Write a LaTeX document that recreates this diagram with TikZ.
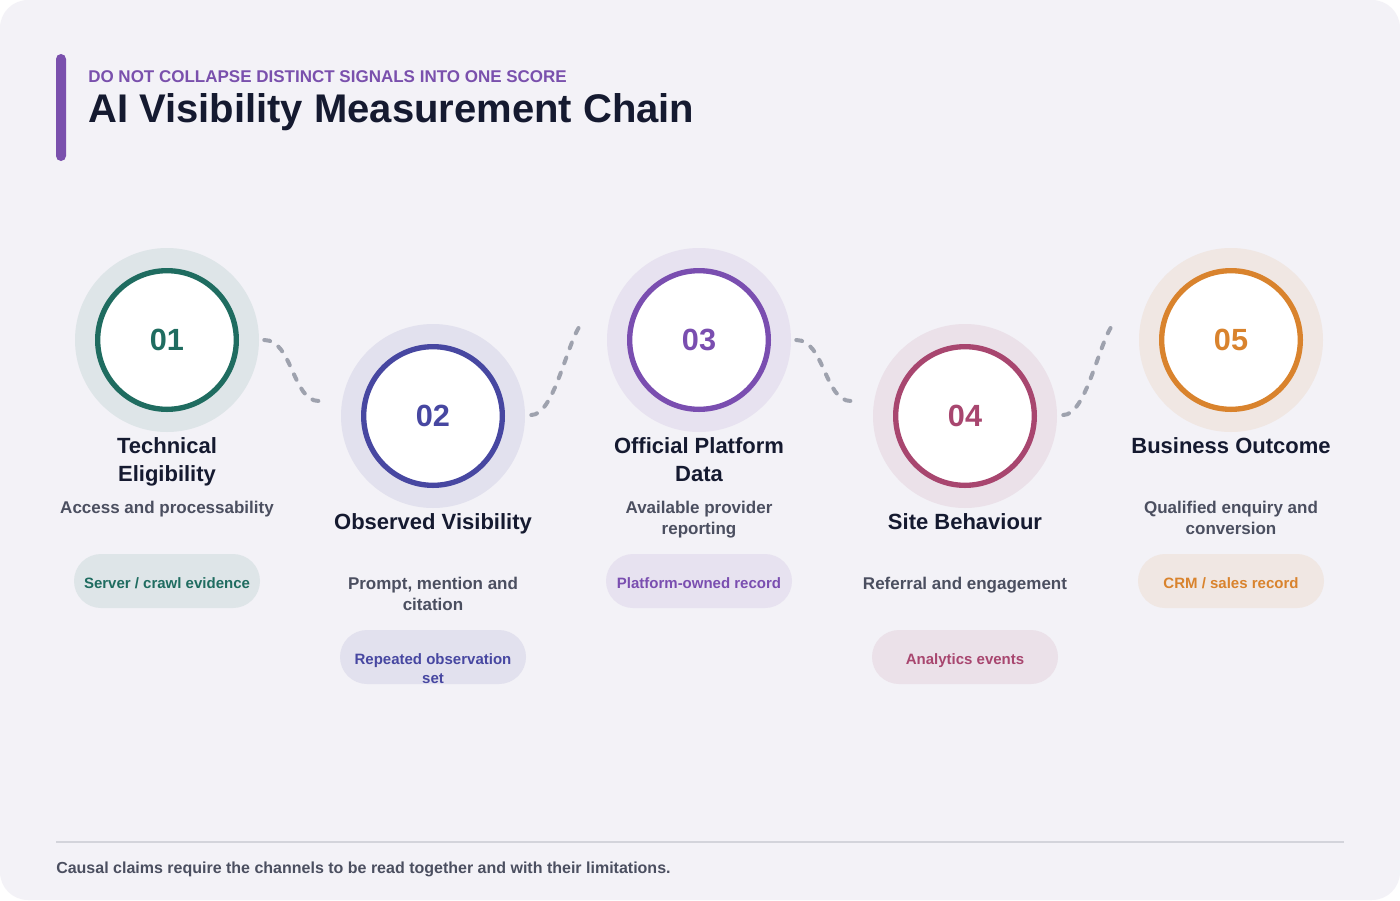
\documentclass[tikz,border=0pt]{standalone}
\usepackage{fontspec}
\setmainfont{Liberation Sans}
\usetikzlibrary{calc}

\definecolor{bgcol}{HTML}{F3F2F7}
\definecolor{inkcol}{HTML}{151A30}
\definecolor{subcol}{HTML}{4B4F60}
\definecolor{linkcol}{HTML}{9EA2AE}
\definecolor{rulecol}{HTML}{D3D4DB}
\definecolor{barcol}{HTML}{7A50AD}
\definecolor{tealcol}{HTML}{1F6C60}
\definecolor{indigocol}{HTML}{4747A1}
\definecolor{purplecol}{HTML}{7A4EB0}
\definecolor{rosecol}{HTML}{A8466F}
\definecolor{orangecol}{HTML}{D9832D}

\tikzset{
  halo/.style={circle, inner sep=0pt, minimum size=138pt, fill=#1!10!bgcol},
  ring/.style={circle, inner sep=0pt, minimum size=104pt, draw=#1, line width=4pt,
    fill=white, text=#1, font=\bfseries\fontsize{23}{26}\selectfont},
  stagetitle/.style={anchor=north, inner sep=0pt, align=center, text=inkcol,
    font=\bfseries\fontsize{16.5}{21}\selectfont},
  stagedesc/.style={anchor=north, inner sep=0pt, align=center, text=subcol,
    font=\bfseries\fontsize{12.75}{15.75}\selectfont},
  pilltext/.style={inner sep=0pt, align=center, text=#1,
    font=\bfseries\fontsize{11.25}{14.25}\selectfont},
  pill/.style={pilltext=#1, rounded corners=20.25pt, minimum width=139.5pt,
    minimum height=40.5pt, text height=11pt, text depth=0pt, fill=#1!10!bgcol},
  link/.style={draw=linkcol, line width=3pt, line cap=round, dash pattern=on 4.5pt off 7.5pt},
}

\begin{document}
\begin{tikzpicture}[x=0.75pt,y=-0.75pt]
  \useasboundingbox (0,0) rectangle (1400,900);
  \fill[white] (0,0) rectangle (1400,900);
  \fill[bgcol, rounded corners=21pt] (0,0) rectangle (1400,900);

  % header
  \fill[barcol, rounded corners=3.75pt] (56,54) rectangle (66,161);
  \node[anchor=base west, inner sep=0pt, text=barcol, font=\bfseries\fontsize{12.75}{15}\selectfont]
    (kicker) at (88,82) {DO NOT COLLAPSE DISTINCT SIGNALS INTO ONE SCORE};
  \node[anchor=base west, inner sep=0pt, text=inkcol, font=\bfseries\fontsize{30}{34}\selectfont]
    (title) at (88,122) {AI Visibility Measurement Chain};

  % stages
  \node[halo=tealcol] (h1) at (167,340) {};
  \node[ring=tealcol] (n1) at (h1) {01};
  \node[halo=indigocol] (h2) at (433,416) {};
  \node[ring=indigocol] (n2) at (h2) {02};
  \node[halo=purplecol] (h3) at (699,340) {};
  \node[ring=purplecol] (n3) at (h3) {03};
  \node[halo=rosecol] (h4) at (965,416) {};
  \node[ring=rosecol] (n4) at (h4) {04};
  \node[halo=orangecol] (h5) at (1231,340) {};
  \node[ring=orangecol] (n5) at (h5) {05};

  \node[stagetitle] (t1) at (167,437) {Technical\\Eligibility};
  \node[stagetitle] (t2) at (433,513) {Observed Visibility};
  \node[stagetitle] (t3) at (699,437) {Official Platform\\Data};
  \node[stagetitle] (t4) at (965,513) {Site Behaviour};
  \node[stagetitle] (t5) at (1231,437) {Business Outcome};

  \node[stagedesc] (d1) at (167,501) {Access and processability};
  \node[stagedesc] (d2) at (433,577) {Prompt, mention and\\citation};
  \node[stagedesc] (d3) at (699,501) {Available provider\\reporting};
  \node[stagedesc] (d4) at (965,577) {Referral and engagement};
  \node[stagedesc] (d5) at (1231,501) {Qualified enquiry and\\conversion};

  \node[pill=tealcol] (p1) at (167,581) {Server / crawl evidence};
  \node[pill=indigocol] (p2) at (433,657) {};
  \node[pilltext=indigocol] (p2t) at (433,669) {Repeated observation\\set};
  \node[pill=purplecol] (p3) at (699,581) {Platform-owned record};
  \node[pill=rosecol] (p4) at (965,657) {Analytics events};
  \node[pill=orangecol] (p5) at (1231,581) {CRM / sales record};

  % dashed links
  \draw[link] ($(h1.east)+(5,0)$) .. controls +(28,0) and +(-26,0) .. ($(h2.west)+(-22,-15)$);
  \draw[link] ($(h2.east)+(6,-1)$) .. controls +(22,0) and +(-14,22) .. ($(h3.west)+(-27,-14)$);
  \draw[link] ($(h3.east)+(5,0)$) .. controls +(28,0) and +(-26,0) .. ($(h4.west)+(-22,-15)$);
  \draw[link] ($(h4.east)+(6,-1)$) .. controls +(22,0) and +(-14,22) .. ($(h5.west)+(-27,-14)$);

  % footer
  \draw[rulecol, line width=1.5pt] (56,842) -- (1344,842);
  \node[anchor=base west, inner sep=0pt, text=subcol, font=\bfseries\fontsize{12}{14}\selectfont]
    (footnote) at (56,873) {Causal claims require the channels to be read together and with their limitations.};
\end{tikzpicture}
\end{document}
